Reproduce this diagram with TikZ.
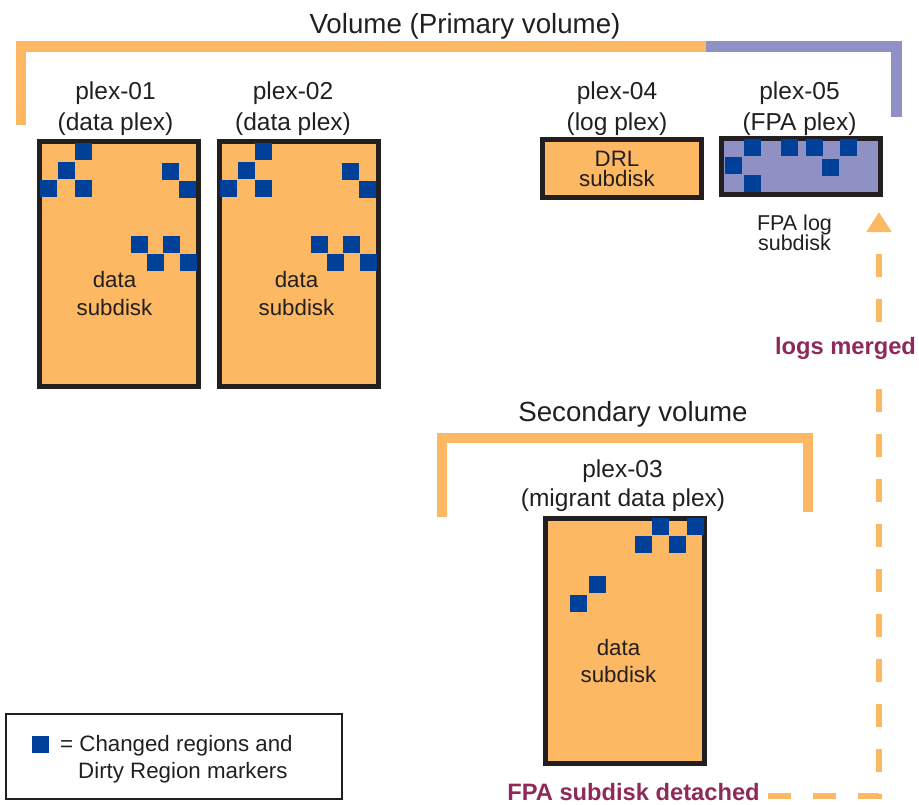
\documentclass[tikz,border=0pt]{standalone}
\usepackage{fontspec}
\setmainfont{Liberation Sans}
\usetikzlibrary{arrows.meta}
\definecolor{orng}{RGB}{253,184,99}
\definecolor{purp}{RGB}{143,145,197}
\definecolor{dirtyblue}{RGB}{0,64,152}
\definecolor{ink}{RGB}{35,31,32}
\definecolor{plum}{RGB}{142,42,90}
\begin{document}
\begin{tikzpicture}[x=1pt,y=-1pt,
  plexbox/.style={draw=ink, line width=5pt, fill=orng, minimum width=159pt, minimum height=245pt, inner sep=0pt},
  lbl/.style={text=ink, font=\fontsize{24.5}{29}\selectfont, anchor=base, inner sep=0pt},
  head/.style={text=ink, font=\fontsize{27.7}{32}\selectfont, anchor=base, inner sep=0pt},
  smalllbl/.style={text=ink, font=\fontsize{22.3}{26}\selectfont, anchor=base, inner sep=0pt},
  fpalbl/.style={text=ink, font=\fontsize{21.5}{25}\selectfont, anchor=base, inner sep=0pt},
  note/.style={text=plum, font=\fontsize{23.7}{28}\selectfont\bfseries, anchor=base, inner sep=0pt},
  bracket/.style={line width=10.5pt, line join=miter},
  dirty/.style={fill=dirtyblue},
  flowline/.style={draw=orng, line width=5.5pt, dash pattern=on 23pt off 22pt, -{Triangle[length=20pt,width=24pt]}}
]
\useasboundingbox (0,0) rectangle (919,804);

% brackets
\draw[bracket, orng] (21,125) -- (21,46.5) -- (706,46.5);
\draw[bracket, purp] (706,46.5) -- (896.5,46.5) -- (896.5,117);
\draw[bracket, orng] (442,517) -- (442,438) -- (808,438) -- (808,512);

% headings
\node[head] (primtitle) at (465,33) {Volume (Primary volume)};
\node[head] (sectitle) at (633,421.7) {Secondary volume};

% plex-01
\node[plexbox] (p1) at (119,264) {};
\foreach \x/\y in {75/143,58/162,40/180,75/180,162/163,179/181,131/236,147/254,163/236,180/254}
  \fill[dirty] (\x,\y) rectangle ++(17,17);
\node[lbl] (p1a) at (115.5,99.5) {plex-01};
\node[lbl] (p1b) at (115.5,130) {(data plex)};
\node[smalllbl] (p1c) at (114.5,287) {data};
\node[smalllbl] (p1d) at (114.5,315) {subdisk};

% plex-02
\node[plexbox] (p2) at (299,264) {};
\foreach \x/\y in {75/143,58/162,40/180,75/180,162/163,179/181,131/236,147/254,163/236,180/254}
  \fill[dirty] (\x+180,\y) rectangle ++(17,17);
\node[lbl] (p2a) at (293,99.5) {plex-02};
\node[lbl] (p2b) at (293,130) {(data plex)};
\node[smalllbl] (p2c) at (296.5,287) {data};
\node[smalllbl] (p2d) at (296.5,315) {subdisk};

% plex-04
\node[plexbox, minimum height=58pt] (p4) at (622,168.5) {};
\node[lbl] (p4a) at (617,99.5) {plex-04};
\node[lbl] (p4b) at (617,130) {(log plex)};
\node[smalllbl] (p4c) at (617,166) {DRL};
\node[smalllbl] (p4d) at (617,186.7) {subdisk};

% plex-05
\node[plexbox, fill=purp, minimum height=56pt] (p5) at (801,166.5) {};
\foreach \x/\y in {744/139,781/139,806/139,840/139,725/157,822/159,744/175}
  \fill[dirty] (\x,\y) rectangle ++(17,17);
\node[lbl] (p5a) at (799.5,99.5) {plex-05};
\node[lbl] (p5b) at (799.5,130) {(FPA plex)};
\node[fpalbl] (p5c) at (794.5,230) {FPA log};
\node[fpalbl] (p5d) at (794.5,250) {subdisk};

% plex-03
\node[plexbox] (p3) at (625,641) {};
\foreach \x/\y in {652/518,687/518,635/536,669/536,589/576,570/595}
  \fill[dirty] (\x,\y) rectangle ++(17,17);
\node[lbl] (p3a) at (622.5,477.3) {plex-03};
\node[lbl] (p3b) at (623,506.7) {(migrant data plex)};
\node[smalllbl] (p3c) at (618.5,655.7) {data};
\node[smalllbl] (p3d) at (618.5,682.3) {subdisk};

% flow arrow
\node[note] (det) at (633.5,800.5) {FPA subdisk detached};
\coordinate (dstart) at (768,796);
\coordinate (tip) at (879,212);
\draw[flowline] (dstart) -| (tip);
\node[note, fill=white, inner ysep=10pt, inner xsep=0pt] (merged) at (845.5,354) {logs merged};

% legend
\node[draw=ink, line width=2pt, minimum width=336pt, minimum height=85pt, inner sep=0pt] (legend) at (174,756.5) {};
\fill[dirty] (32,736) rectangle ++(17,17);
\node[smalllbl, anchor=base west] (leg1) at (60,751.7) {= Changed regions and};
\node[smalllbl, anchor=base west] (leg2) at (78,778.3) {Dirty Region markers};
\end{tikzpicture}
\end{document}
